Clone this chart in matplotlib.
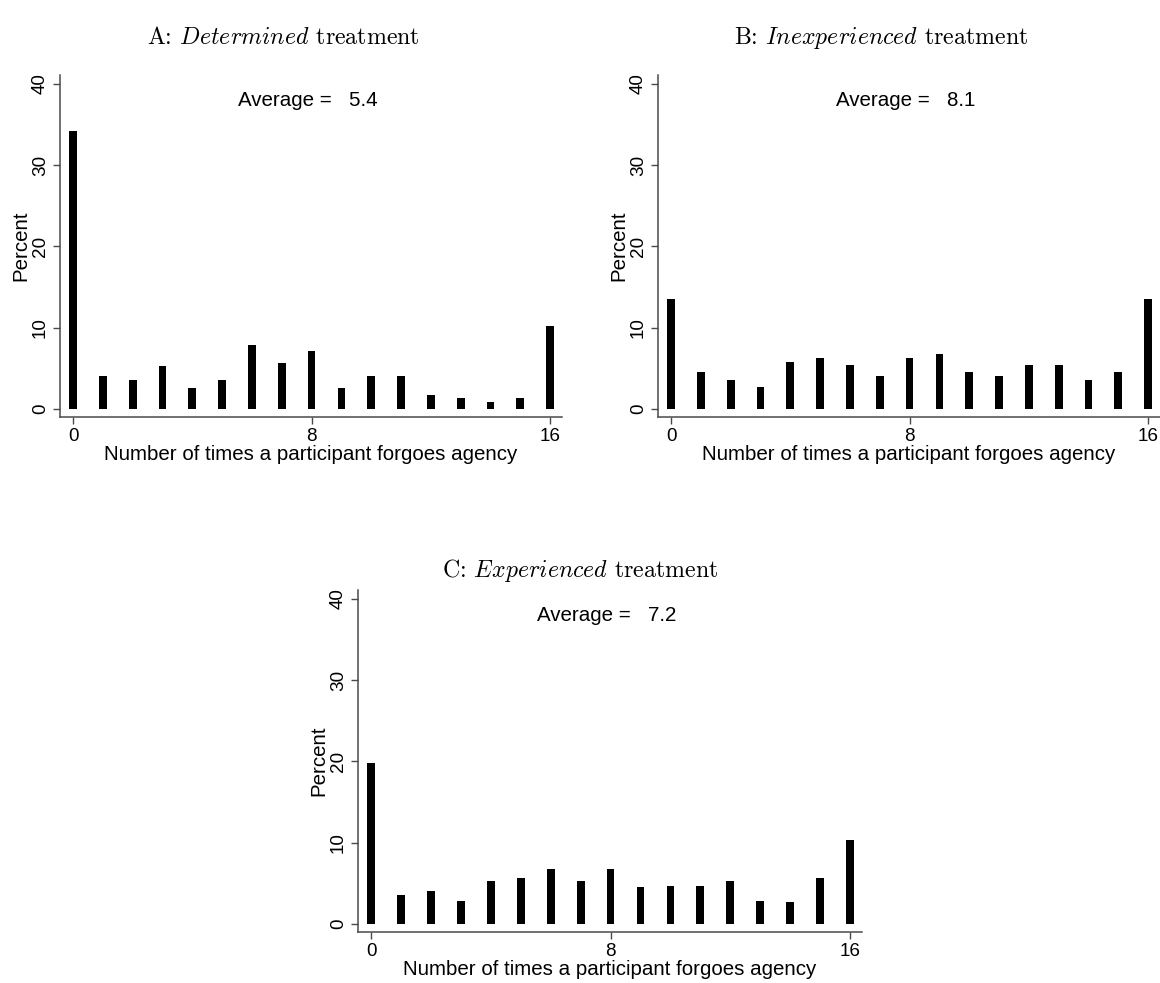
import matplotlib
matplotlib.use("Agg")
import matplotlib.pyplot as plt

plt.rcParams['font.family'] = ['Liberation Sans', 'DejaVu Sans']
plt.rcParams['mathtext.fontset'] = 'cm'

counts = list(range(17))
determined = [34.2, 4.0, 3.6, 5.3, 2.6, 3.6, 7.9, 5.7, 7.1, 2.6, 4.0, 4.0, 1.7, 1.3, 0.9, 1.3, 10.2]
inexperienced = [13.5, 4.5, 3.6, 2.7, 5.8, 6.3, 5.4, 4.1, 6.3, 6.8, 4.5, 4.1, 5.4, 5.4, 3.6, 4.5, 13.5]
experienced = [19.8, 3.6, 4.0, 2.8, 5.3, 5.6, 6.7, 5.3, 6.7, 4.5, 4.7, 4.7, 5.3, 2.8, 2.7, 5.6, 10.3]
averages = [5.4, 8.1, 7.2]
titles = [r"A: $\mathit{Determined}$ treatment",
          r"B: $\mathit{Inexperienced}$ treatment",
          r"C: $\mathit{Experienced}$ treatment"]
xticks = [0, 8, 16]
yticks = [0, 10, 20, 30, 40]

W, H = 1160, 983
fig = plt.figure(figsize=(W / 100, H / 100), dpi=100)

def ax_at(left, right, top, bottom):
    return fig.add_axes([left / W, 1 - bottom / H, (right - left) / W, (bottom - top) / H])

boxes = [(60, 562, 75, 417), (658, 1160, 75, 417), (358, 862, 590, 932)]
data = [determined, inexperienced, experienced]
title_pos = [(283, 38), (881, 38), (580, 571)]
spine_col = '#4a4a4a'

for i, (box, vals) in enumerate(zip(boxes, data)):
    ax = ax_at(*box)
    ax.bar(counts, vals, width=0.26, color='black', edgecolor='none')
    ax.set_xlim(-0.44, 16.4)
    ax.set_ylim(-1.0, 41.1)
    ax.set_xticks(xticks)
    ax.set_yticks(yticks)
    ax.set_yticklabels([str(t) for t in yticks], rotation=90, va='center')
    ax.tick_params(axis='both', labelsize=13.6, length=5, width=1, color=spine_col, pad=3)
    for s in ['top', 'right']:
        ax.spines[s].set_visible(False)
    for s in ['left', 'bottom']:
        ax.spines[s].set_color(spine_col)
        ax.spines[s].set_linewidth(1.1)
    ax.set_ylabel("Percent", fontsize=14.8, labelpad=1)
    ax.set_xlabel("Number of times a participant forgoes agency", fontsize=14.8, labelpad=0)
    ax.text(5.54, 38.0, "Average =   %.1f" % averages[i], fontsize=14.8, ha='left', va='center')
    tx, ty = title_pos[i]
    fig.text(tx / W, 1 - ty / H, titles[i], fontsize=17.2, family='cmr10',
             ha='center', va='center')

fig.savefig("out.png", dpi=100)
